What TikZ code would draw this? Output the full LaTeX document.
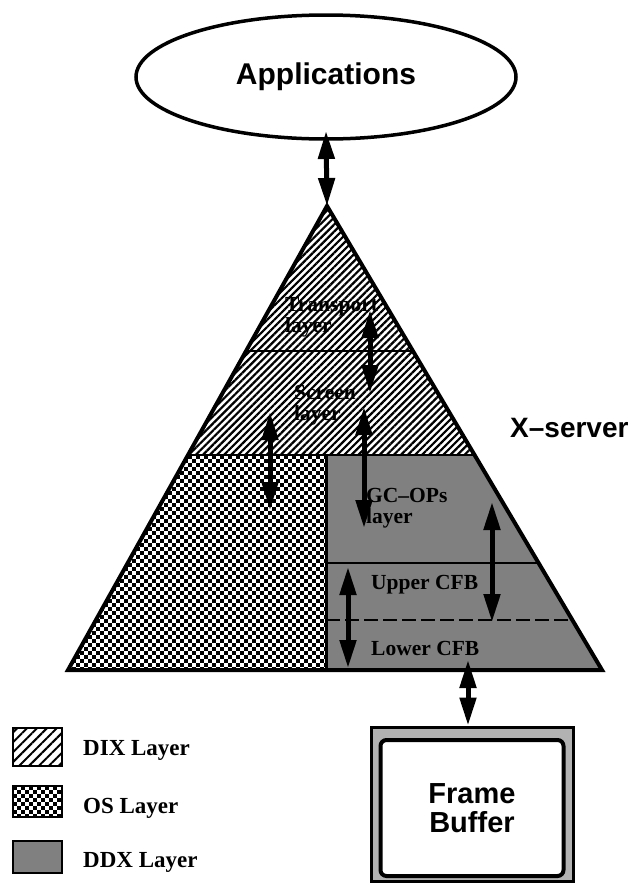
\documentclass[tikz,border=0pt]{standalone}
\usepackage{fontspec}
\setmainfont{Liberation Serif}
\setsansfont{Liberation Sans}
\usetikzlibrary{arrows.meta,patterns,patterns.meta,shapes.geometric}

\begin{document}
\begin{tikzpicture}[x=1pt,y=-1pt,
 dbl/.style={line width=5pt,{Triangle[length=28pt,width=16pt]}-{Triangle[length=28pt,width=16pt]}},
 lbl/.style={font=\fontsize{21.5}{21}\selectfont\bfseries, align=left, anchor=west, inner sep=0pt},
 legtext/.style={font=\fontsize{23}{23}\selectfont\bfseries, anchor=west, inner sep=0pt},
 hatch/.style={pattern={Lines[angle=45,distance=5pt,line width=2.2pt]}},
 leghatch/.style={pattern={Lines[angle=45,distance=7pt,line width=2pt]}},
 ddx/.style={fill=black!50},
 checkrow/.style={line width=4pt, dash pattern=on 4pt off 4pt},
 legbox/.style={draw, line width=2pt, minimum width=49pt, inner sep=0pt}
]
\useasboundingbox (0,0) rectangle (631,884);

% Applications
\node[draw, ellipse, line width=3.5pt, minimum width=380pt, minimum height=124pt, inner sep=0pt,
      font=\sffamily\bfseries\fontsize{30}{30}\selectfont] (apps) at (326,77) {Applications};

% triangle coordinates
\coordinate (apex) at (327,206);
\coordinate (bl) at (68,670);
\coordinate (br) at (602,670);
\coordinate (l1) at (246,351);
\coordinate (r1) at (413,351);
\coordinate (l2) at (188,455);
\coordinate (r2) at (475,455);
\coordinate (m2) at (326,455);
\coordinate (mb) at (326,670);
\coordinate (m3) at (326,563);
\coordinate (r3) at (539,563);
\coordinate (m4) at (326,620);
\coordinate (r4) at (572,620);

% fills
\fill[hatch] (apex) -- (r2) -- (l2) -- cycle;
\begin{scope}
  \clip (l2) -- (m2) -- (mb) -- (bl) -- cycle;
  \foreach \i [evaluate=\i as \ph using {4*mod(\i,2)}] in {0,...,54}
    \draw[checkrow, dash phase=\ph pt] (60,{457+4*\i}) -- (330,{457+4*\i});
\end{scope}
\fill[ddx] (m2) -- (r2) -- (br) -- (mb) -- cycle;

% dividers
\draw[line width=2pt] (l1) -- (r1);
\draw[line width=2.5pt] (l2) -- (r2);
\draw[line width=3pt] (m2) -- (mb);
\draw[line width=2.5pt] (m3) -- (r3);
\draw[line width=1.5pt, dash pattern=on 14pt off 5pt] (m4) -- (r4);
\draw[line width=4pt, line join=miter] (apex) -- (br) -- (bl) -- cycle;

% labels
\node[lbl] (transport) at (285,317) {Transport\\layer};
\node[lbl] (screen) at (294,405) {Screen\\layer};
\node[lbl] (gcops) at (366,508) {GC--OPs\\layer};
\node[lbl] (upper) at (371,585) {Upper CFB};
\node[lbl] (lower) at (371,648) {Lower CFB};

\node[anchor=west, inner sep=0pt, font=\sffamily\bfseries\fontsize{28}{28}\selectfont] (xs) at (510,428) {X--server};

% frame buffer
\node[draw, line width=3pt, fill=black!30, minimum width=202pt, minimum height=154pt, inner sep=0pt] (fb) at (472,804) {};
\node[draw, line width=4pt, fill=white, rounded corners=6pt, minimum width=183pt, minimum height=136pt, inner sep=0pt,
      align=center, font=\sffamily\bfseries\fontsize{29}{29}\selectfont] (fbin) at (472,808) {Frame\\Buffer};

% arrow end points
\coordinate (a1t) at (326,131);
\coordinate (a2t) at (370,310);
\coordinate (a2b) at (370,393);
\coordinate (a3t) at (270,412);
\coordinate (a3b) at (270,510);
\coordinate (a4t) at (364,407);
\coordinate (a4b) at (364,528);
\coordinate (a5t) at (492,502);
\coordinate (a5b) at (492,622);
\coordinate (a6t) at (348,567);
\coordinate (a6b) at (348,668);
\coordinate (a7t) at (468,660);

\draw[dbl] (a1t) -- (apex);
\draw[dbl] (a2t) -- (a2b);
\draw[dbl] (a3t) -- (a3b);
\draw[dbl] (a4t) -- (a4b);
\draw[dbl] (a5t) -- (a5b);
\draw[dbl] (a6t) -- (a6b);
\draw[dbl] (a7t) -- (a7t |- fb.north);

% legend
\node[legbox, leghatch, minimum height=38pt] (lg1) at (37.5,747) {};
\begin{scope}
  \clip (13,786) rectangle (62,817);
  \foreach \i [evaluate=\i as \ph using {4*mod(\i,2)}] in {0,...,8}
    \draw[checkrow, dash phase=\ph pt] (13,{788+4*\i}) -- (62,{788+4*\i});
\end{scope}
\node[legbox, minimum height=31pt] (lg2) at (37.5,801.5) {};
\node[legbox, ddx, minimum height=32pt] (lg3) at (37.5,857) {};
\node[legtext] (t1) at (83,750) {DIX Layer};
\node[legtext] (t2) at (83,808) {OS Layer};
\node[legtext] (t3) at (83,862) {DDX Layer};
\end{tikzpicture}
\end{document}
